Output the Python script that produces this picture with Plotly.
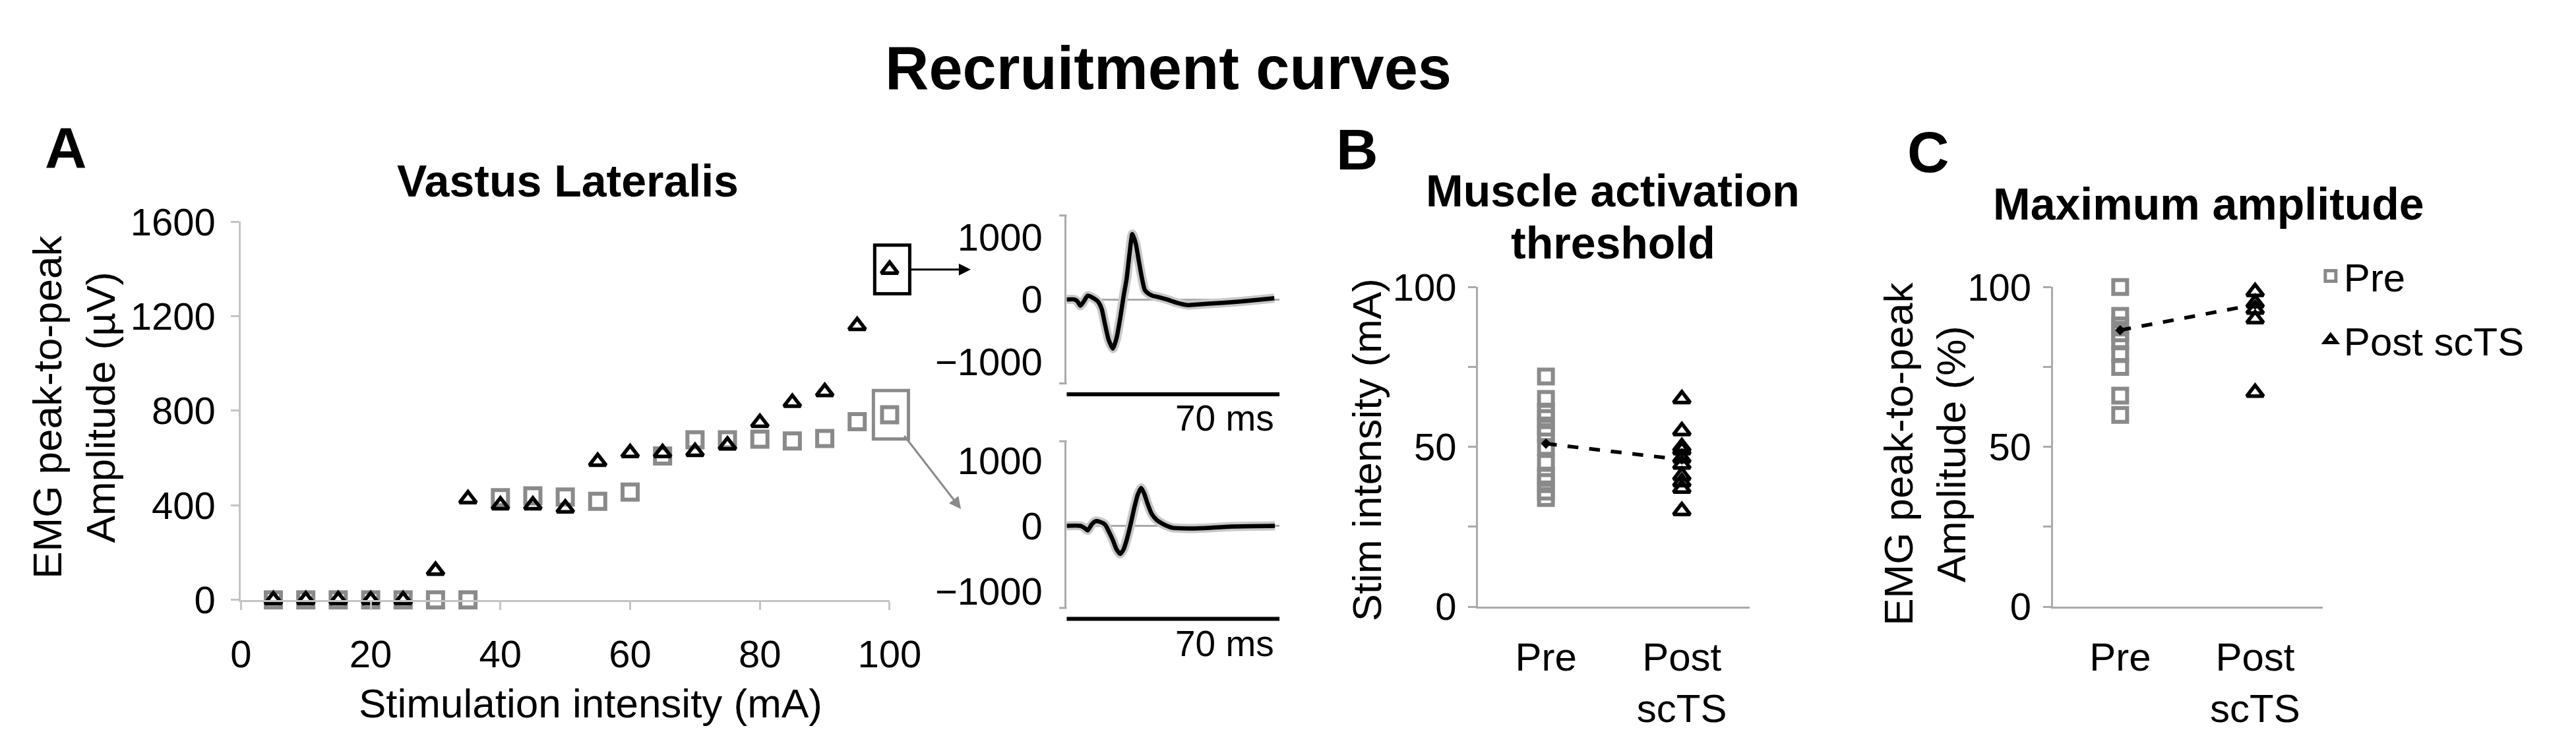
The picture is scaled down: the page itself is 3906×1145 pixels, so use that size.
import plotly.graph_objects as go

W, H = 3906, 1145
def fx(p):
    return p / W
def fy(p):
    return 1 - p / H

# ---------------- data ----------------
stim_mA = [5, 10, 15, 20, 25, 30, 35, 40, 45, 50, 55, 60, 65, 70, 75, 80, 85, 90, 95, 100]
pre_amp_uV = [0, 0, 0, 0, 0, 0, 0, 432, 440, 435, 417, 456, 609, 677, 677, 680, 672, 683, 754, 783]
post_amp_uV = [0, 0, 0, 0, 0, 124, 427, 401, 401, 388, 585, 622, 622, 627, 654, 750, 835, 880, 1160, 1398]

t_top_ms = [0, 2.5, 3.5, 4.5, 5.5, 6.9, 8.5, 10.2, 11.5, 12.6, 13.8, 15.2, 16.4, 17.6, 18.7, 19.7, 20.7,
            21.6, 22.7, 23.8, 24.8, 25.7, 27.0, 28.2, 30.0, 33.0, 36.0, 39.6, 43.0, 46.0, 52.9, 60.0, 68.3]
emg_top_uV = [0, 0, -30, -100, -40, 60, 30, -30, -150, -400, -650, -790, -620, -300, 50, 330, 750,
              1050, 900, 600, 330, 150, 90, 60, 40, 0, -50, -90, -80, -70, -50, -20, 20]
t_bot_ms = [0, 4.5, 5.8, 6.9, 8.2, 9.4, 11.0, 12.6, 14.0, 15.2, 16.4, 17.6, 18.7, 19.7, 21.0, 22.2, 23.4,
            24.5, 25.6, 26.6, 28.0, 29.6, 32.0, 34.8, 40.0, 44.6, 54.4, 68.5]
emg_bot_uV = [0, 0, -30, -70, 20, 70, 60, 20, -100, -220, -360, -430, -360, -220, 20, 270, 480,
              580, 480, 340, 180, 90, 20, -30, -40, -35, -10, 0]

group_labels = ["Pre", "Post<br>scTS"]
thr_pre_mA = [72, 65, 61, 59, 56, 54, 50, 45, 41, 39, 36, 34]
thr_post_mA = [65, 55, 50, 49, 46.5, 44.5, 41, 39, 37, 30]
thr_means = [51, 46]
max_pre_pct = [100, 91, 88, 85.5, 83, 79, 75, 66, 60]
max_post_pct = [101, 98.5, 95, 93, 90, 67]
max_means = [86.5, 94.5]

# ---------------- styling ----------------
FONT = "Liberation Sans"
GRAY = "#8A8A8A"
AX = "#AAAAAA"
AXL = "#C4C4C4"

fig = go.Figure()

# Panel A
fig.add_trace(go.Scatter(x=stim_mA, y=pre_amp_uV, mode="markers", xaxis="x", yaxis="y",
                         marker=dict(symbol="square-open", size=23, color=GRAY, line=dict(width=6, color=GRAY)),
                         cliponaxis=False, showlegend=False))
fig.add_trace(go.Scatter(x=stim_mA, y=post_amp_uV, mode="markers", xaxis="x", yaxis="y",
                         marker=dict(symbol="triangle-up-open", size=22, color="black", line=dict(width=5.5, color="black")),
                         cliponaxis=False, showlegend=False))

# Insets
for xa, ya, t, v in [("x2", "y2", t_top_ms, emg_top_uV), ("x3", "y3", t_bot_ms, emg_bot_uV)]:
    fig.add_trace(go.Scatter(x=t, y=v, mode="lines", xaxis=xa, yaxis=ya,
                             line=dict(color="#C8C8C8", width=14, shape="spline", smoothing=0.6),
                             showlegend=False, cliponaxis=False))
    fig.add_trace(go.Scatter(x=t, y=v, mode="lines", xaxis=xa, yaxis=ya,
                             line=dict(color="black", width=6.5, shape="spline", smoothing=0.6),
                             showlegend=False, cliponaxis=False))

# Panels B and C
for xa, ya, pre, post, means, leg in [("x4", "y4", thr_pre_mA, thr_post_mA, thr_means, False),
                                       ("x5", "y5", max_pre_pct, max_post_pct, max_means, True)]:
    fig.add_trace(go.Scatter(x=[0] * len(pre), y=pre, mode="markers", xaxis=xa, yaxis=ya,
                             marker=dict(symbol="square-open", size=21, color=GRAY, line=dict(width=6, color=GRAY)),
                             name="Pre", legendgroup="pre", showlegend=leg, cliponaxis=False))
    fig.add_trace(go.Scatter(x=[1] * len(post), y=post, mode="markers", xaxis=xa, yaxis=ya,
                             marker=dict(symbol="triangle-up-open", size=22, color="black", line=dict(width=5.5, color="black")),
                             name="Post scTS", legendgroup="post", showlegend=leg, cliponaxis=False))
    fig.add_trace(go.Scatter(x=[0, 1], y=means, mode="lines+markers", xaxis=xa, yaxis=ya,
                             line=dict(color="black", width=5.5, dash="dash"),
                             marker=dict(symbol="diamond", size=12, color="black"),
                             showlegend=False, cliponaxis=False))

tickfont = dict(family=FONT, size=58, color="black")

def base_y(**kw):
    d = dict(showgrid=False, zeroline=False, showline=True, linewidth=3, tickfont=tickfont,
             ticks="outside", ticklen=12, tickwidth=3)
    d.update(kw)
    return d

A_px_x = [347, 1347]
A_px_y = [921, 313]
xA_rng = [0, 100]
yA_rng = [0, 1600]
xA_dom = [fx(A_px_x[0]), fx(A_px_x[1])]
yA_dom = [fy(A_px_y[0]), fy(A_px_y[1])]

fig.update_layout(
    width=W, height=H, margin=dict(l=0, r=0, t=0, b=0),
    paper_bgcolor="white", plot_bgcolor="white",
    font=dict(family=FONT, color="black"),
    xaxis=dict(domain=xA_dom, range=xA_rng, anchor="y", tickvals=[0, 20, 40, 60, 80, 100],
               showgrid=False, zeroline=False, showline=True, linecolor=AXL, linewidth=3,
               ticks="outside", ticklen=12, tickwidth=3, tickcolor=AXL, tickfont=tickfont,
               ticklabelstandoff=18),
    yaxis=base_y(domain=yA_dom, range=yA_rng, anchor="x", tickvals=[0, 400, 800, 1200, 1600],
                 linecolor=AXL, tickcolor=AXL, ticklabelstandoff=12),
    xaxis2=dict(domain=[fx(1620), fx(1948)], range=[0, 70], anchor="y2", visible=False),
    yaxis2=dict(domain=[fy(573), fy(303)], range=[-1350, 1350], anchor="x2", tickvals=[-1000, 0, 1000],
                showgrid=False, showline=True, linecolor=AX, linewidth=3, ticks="",
                zeroline=True, zerolinecolor=AX, zerolinewidth=3, tickfont=tickfont, ticklabelstandoff=22),
    xaxis3=dict(domain=[fx(1620), fx(1948)], range=[0, 70], anchor="y3", visible=False),
    yaxis3=dict(domain=[fy(934), fy(666)], range=[-1257, 1295], anchor="x3", tickvals=[-1000, 0, 1000],
                showgrid=False, showline=True, linecolor=AX, linewidth=3, ticks="",
                zeroline=True, zerolinecolor=AX, zerolinewidth=3, tickfont=tickfont, ticklabelstandoff=22),
    xaxis4=dict(domain=[fx(2254), fx(2673)], range=[-0.5, 1.5], anchor="y4", tickvals=[0, 1],
                ticktext=group_labels, showgrid=False, zeroline=False, showline=True, linecolor=AX,
                linewidth=3, ticks="", tickfont=dict(family=FONT, size=60, color="black"), ticklabelstandoff=22),
    yaxis4=base_y(domain=[fy(932), fy(418)], range=[0, 100], anchor="x4", tickvals=[0, 50, 100],
                  linecolor=AX, tickcolor=AX, ticklabelstandoff=6,
                  minor=dict(tickvals=[25, 75], ticks="outside", ticklen=12, tickwidth=3, tickcolor=AX)),
    xaxis5=dict(domain=[fx(3140), fx(3556)], range=[-0.5, 1.5], anchor="y5", tickvals=[0, 1],
                ticktext=group_labels, showgrid=False, zeroline=False, showline=True, linecolor=AX,
                linewidth=3, ticks="", tickfont=dict(family=FONT, size=60, color="black"), ticklabelstandoff=22),
    yaxis5=base_y(domain=[fy(932), fy(418)], range=[0, 100], anchor="x5", tickvals=[0, 50, 100],
                  linecolor=AX, tickcolor=AX, ticklabelstandoff=6,
                  minor=dict(tickvals=[25, 75], ticks="outside", ticklen=12, tickwidth=3, tickcolor=AX)),
    legend=dict(x=fx(3548), y=fy(352), xanchor="left", yanchor="top", bgcolor="rgba(0,0,0,0)",
                font=dict(family=FONT, size=60, color="black"), itemwidth=30, tracegroupgap=16,
                itemsizing="trace"),
)

ann = []
def text(x, y, s, size, bold=False, angle=0, xanchor="center"):
    ann.append(dict(x=fx(x), y=fy(y), xref="paper", yref="paper", text=("<b>%s</b>" % s) if bold else s,
                    showarrow=False, textangle=angle, xanchor=xanchor, yanchor="middle",
                    font=dict(family=FONT, size=size, color="black")))

text(1777, 66, "Recruitment curves", 92, bold=True)
text(77, 193, "A", 88, bold=True)
text(2068, 197, "B", 88, bold=True)
text(2948, 201, "C", 88, bold=True)
text(851, 247, "Vastus Lateralis", 68, bold=True)
text(2462, 263, "Muscle activation", 68, bold=True)
text(2462, 347, "threshold", 68, bold=True)
text(3380, 284, "Maximum amplitude", 68, bold=True)
text(886, 1087, "Stimulation intensity (mA)", 62)
text(90, 611, "EMG peak-to-peak<br>Amplitude (µV)", 62, angle=-90)
text(2083, 680, "Stim intensity (mA)", 62, angle=-90)
text(2943, 686, "EMG peak-to-peak<br>Amplitude (%)", 62, angle=-90)
text(1942, 629, "70 ms", 55, xanchor="right")
text(1942, 991, "70 ms", 55, xanchor="right")

# panel-A data value -> pixel position (for highlight boxes around the 100 mA points)
def pxA(v):
    return A_px_x[0] + (v - xA_rng[0]) / (xA_rng[1] - xA_rng[0]) * (A_px_x[1] - A_px_x[0])
def pyA(v):
    return A_px_y[0] + (v - yA_rng[0]) / (yA_rng[1] - yA_rng[0]) * (A_px_y[1] - A_px_y[0])

shapes = []
BW, BH = 27, 39
cxp, cyp = pxA(stim_mA[-1]) + 4, pyA(post_amp_uV[-1])
gxp, gyp = pxA(stim_mA[-1]) + 2, pyA(pre_amp_uV[-1])
for (X, Y, col) in [(cxp, cyp, "black"), (gxp, gyp, GRAY)]:
    shapes.append(dict(type="rect", xref="paper", yref="paper", x0=fx(X - BW), x1=fx(X + BW),
                       y0=fy(Y + BH), y1=fy(Y - BH), line=dict(color=col, width=5)))

# arrows from the boxes to the insets (ax/ay in pixels relative to the head)
head_b = (1472, cyp)
ann.append(dict(x=fx(head_b[0]), y=fy(head_b[1]), xref="paper", yref="paper",
                ax=(cxp + BW) - head_b[0], ay=0, text="", showarrow=True, arrowhead=2, arrowsize=1.2,
                arrowwidth=3, arrowcolor="black", standoff=0))
head_g = (1457, 775)
ann.append(dict(x=fx(head_g[0]), y=fy(head_g[1]), xref="paper", yref="paper",
                ax=(gxp + BW - 6) - head_g[0], ay=(gyp + BH) - head_g[1], text="", showarrow=True,
                arrowhead=2, arrowsize=1.2, arrowwidth=3, arrowcolor=GRAY, standoff=0))

# inset bracket ends and 70 ms scale bars (domain-relative)
for xa, ya in [("x2", "y2"), ("x3", "y3")]:
    for yy in (0, 1):
        shapes.append(dict(type="line", xref=xa + " domain", yref=ya + " domain", x0=-0.035, x1=0, y0=yy, y1=yy,
                           line=dict(color=AX, width=3)))
    shapes.append(dict(type="line", xref=xa + " domain", yref=ya + " domain", x0=0.0, x1=1.0, y0=-0.065, y1=-0.065,
                       line=dict(color="black", width=6)))

fig.update_layout(annotations=ann, shapes=shapes)
fig.write_html("out.html")
